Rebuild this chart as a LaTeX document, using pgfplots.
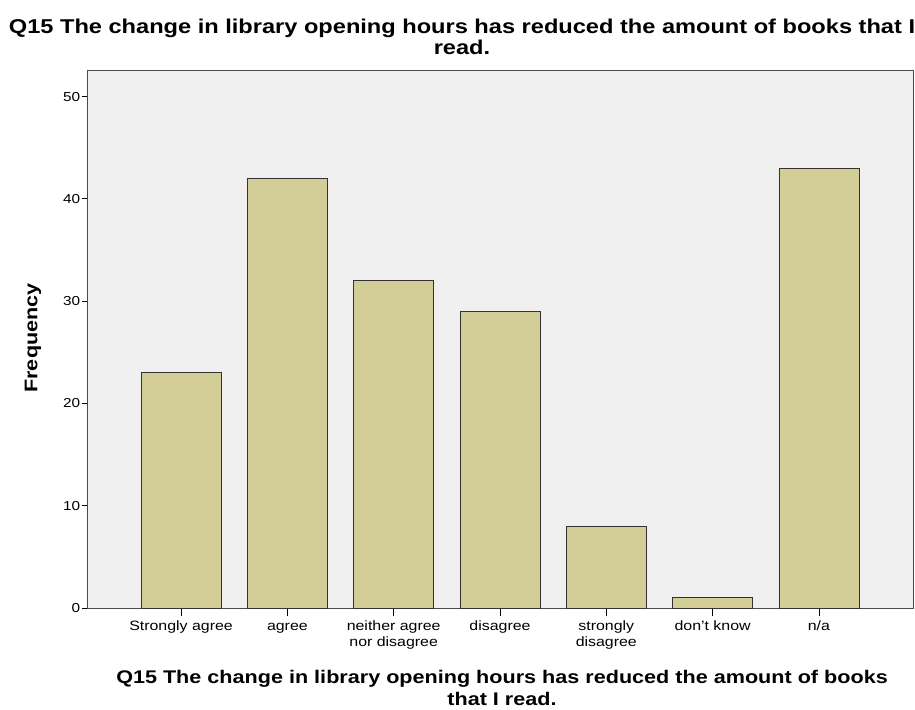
\documentclass[border=0pt]{standalone}
\usepackage{pgfplots}
\pgfplotsset{compat=1.18}
\usepackage{fontspec}
\setmainfont{Liberation Sans}[FakeStretch=1.18]
\definecolor{barfill}{HTML}{D3CE97}
\definecolor{bgfill}{HTML}{F0F0F0}
\begin{document}
\begin{tikzpicture}[x=1pt,y=1pt]
\useasboundingbox (0,0) rectangle (915,709);
\begin{axis}[
  at={(87pt,101pt)}, anchor=south west,
  scale only axis, width=826pt, height=538pt,
  xmin=-0.885, xmax=6.885, ymin=0, ymax=52.6,
  axis background/.style={fill=bgfill},
  axis line style={draw=black!70, line width=0.8pt},
  ybar, bar width=0.753,
  xtick=data,
  xticklabels={\strut Strongly agree, \strut agree, {\strut neither agree\\nor disagree}, \strut disagree, {\strut strongly\\disagree}, \strut don't know, \strut n/a},
  xticklabel style={align=center, font=\fontsize{13.5}{15.5}\selectfont, yshift=-4pt},
  ytick={0,10,20,30,40,50},
  yticklabel style={font=\fontsize{13}{13}\selectfont, xshift=1pt},
  /pgf/number format/assume math mode=true,
  tick align=outside, tick pos=left,
  xtick style={draw=black, line width=0.8pt, /pgfplots/major tick length=8pt},
  ytick style={draw=black, line width=0.8pt, /pgfplots/major tick length=5pt},
  clip=false,
]
\addplot[fill=barfill, draw=black!80, line width=0.6pt] coordinates {(0,23) (1,42) (2,32) (3,29) (4,8) (5,1) (6,43)};
\end{axis}
\node[font=\bfseries\fontsize{20}{20}\selectfont] at (462,681) {Q15 The change in library opening hours has reduced the amount of books that I};
\node[font=\bfseries\fontsize{20}{20}\selectfont] at (462,662) {read.};
\node[font=\bfseries\fontsize{18.3}{18}\selectfont] at (502,30) {Q15 The change in library opening hours has reduced the amount of books};
\node[font=\bfseries\fontsize{18.3}{18}\selectfont] at (502,10) {that I read.};
\node[font=\bfseries\fontsize{18.3}{18}\selectfont, rotate=90] at (33,371) {Frequency};
\end{tikzpicture}
\end{document}
